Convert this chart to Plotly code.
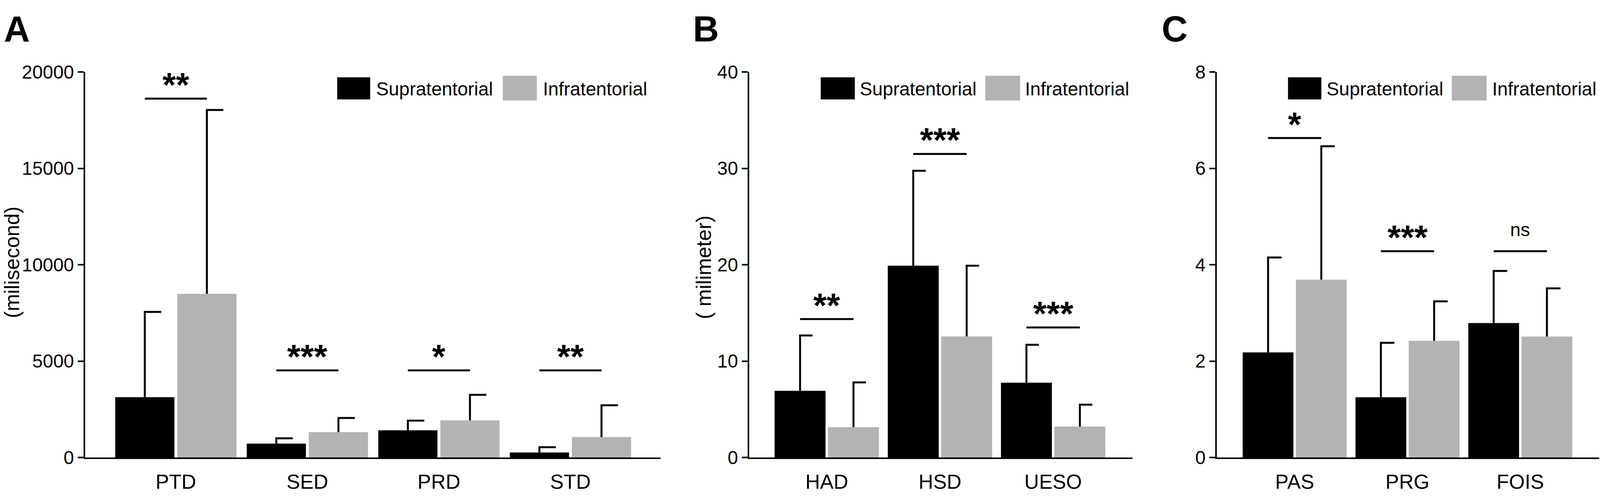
import plotly.graph_objects as go

# reference figure is 4318 x 1289; the browser viewport is 4096 css px wide,
# so the figure is laid out in reference pixels and mapped to paper fractions
REF_W, H = 4318, 1289
FIG_W = 4096

# panel A - durations
cats_A = ["PTD", "SED", "PRD", "STD"]
supra_A = [3130, 720, 1410, 260]
supra_A_sd = [4420, 275, 500, 270]
infra_A = [8490, 1315, 1925, 1060]
infra_A_sd = [9540, 735, 1325, 1650]
sig_A_y = [18620, 4520, 4520, 4520]
sig_A = ["**", "***", "*", "**"]

# panel B - distances
cats_B = ["HAD", "HSD", "UESO"]
supra_B = [6.92, 19.9, 7.76]
supra_B_sd = [5.74, 9.85, 3.94]
infra_B = [3.14, 12.56, 3.2]
infra_B_sd = [4.65, 7.34, 2.28]
sig_B_y = [14.36, 31.5, 13.49]
sig_B = ["**", "***", "***"]

# panel C - scores
cats_C = ["PAS", "PRG", "FOIS"]
supra_C = [2.18, 1.25, 2.79]
supra_C_sd = [1.97, 1.13, 1.08]
infra_C = [3.69, 2.42, 2.51]
infra_C_sd = [2.77, 0.82, 1.0]
sig_C_y = [6.63, 4.28, 4.28]
sig_C = ["*", "***", "ns"]

series_names = ["Supratentorial", "Infratentorial"]
BLACK = "#000000"
GREY = "#b3b3b3"
FONT = "Liberation Sans, Arial, sans-serif"


def px(x):
    return x / REF_W


def py(y):
    return 1 - y / H


panels = [
    dict(cats=cats_A, vals=[supra_A, infra_A], sds=[supra_A_sd, infra_A_sd],
         sig_y=sig_A_y, sig=sig_A, ymax=20000, dtick=5000,
         dom=[230, 1783], xr=[-0.689, 3.686], cap=0.125, letter="A", letter_x=8,
         ytitle="(milisecond)", ytitle_x=32, ytitle_y=672,
         leg=[910, 999, 1013, 1357, 1449, 1463]),
    dict(cats=cats_B, vals=[supra_B, infra_B], sds=[supra_B_sd, infra_B_sd],
         sig_y=sig_B_y, sig=sig_B, ymax=40, dtick=10,
         dom=[2022, 3056], xr=[-0.685, 2.70], cap=0.11, letter="B", letter_x=1868,
         ytitle="( milimeter)", ytitle_x=1899, ytitle_y=686,
         leg=[2215, 2307, 2318, 2659, 2753, 2764]),
    dict(cats=cats_C, vals=[supra_C, infra_C], sds=[supra_C_sd, infra_C_sd],
         sig_y=sig_C_y, sig=sig_C, ymax=8, dtick=2,
         dom=[3284, 4316], xr=[-0.69, 2.70], cap=0.12, letter="C", letter_x=3133,
         ytitle=None, leg=[3476, 3566, 3578, 3918, 4012, 4025]),
]

OFF = 0.236   # half distance between the two bar centres of a group
BW = 0.45     # bar width in category units
Y_DOM = [py(1193), py(165)]

fig = go.Figure()
shapes = []
annotations = []

for p_i, p in enumerate(panels):
    k = "" if p_i == 0 else str(p_i + 1)
    xa, ya = "x" + k, "y" + k
    idx = list(range(len(p["cats"])))

    for s_i, (vals, sds, col) in enumerate(zip(p["vals"], p["sds"], [BLACK, GREY])):
        xs = [i - OFF if s_i == 0 else i + OFF for i in idx]
        fig.add_trace(go.Bar(x=xs, y=vals, width=BW, marker=dict(color=col, line=dict(width=0)),
                             name=series_names[s_i], showlegend=False, xaxis=xa, yaxis=ya))
        # upward-only error bars with the cap going to the right
        ex, ey = [], []
        for x0, v, sd in zip(xs, vals, sds):
            ex += [x0, x0, x0 + p["cap"], None]
            ey += [v, v + sd, v + sd, None]
        fig.add_trace(go.Scatter(x=ex, y=ey, mode="lines", line=dict(color=BLACK, width=5),
                                 showlegend=False, hoverinfo="skip", xaxis=xa, yaxis=ya))

    # significance brackets
    for i, sy, lab in zip(idx, p["sig_y"], p["sig"]):
        shapes.append(dict(type="line", xref=xa, yref=ya, x0=i - OFF, x1=i + OFF, y0=sy, y1=sy,
                           line=dict(color=BLACK, width=5)))
        if lab == "ns":
            annotations.append(dict(x=i, y=sy, xref=xa, yref=ya, text=lab, showarrow=False,
                                    yanchor="middle", yshift=55,
                                    font=dict(family=FONT, size=48, color=BLACK)))
        else:
            annotations.append(dict(x=i, y=sy, xref=xa, yref=ya, text="<b>" + lab + "</b>",
                                    showarrow=False, yanchor="middle", yshift=36,
                                    font=dict(family=FONT, size=88, color=BLACK)))

    # axes
    xkey = "xaxis" + k
    ykey = "yaxis" + k
    fig.layout[xkey] = dict(domain=[px(p["dom"][0]), px(p["dom"][1])], range=p["xr"], anchor=ya,
                            tickvals=idx, ticktext=p["cats"], ticks="", showgrid=False,
                            zeroline=False, showline=True, linecolor=BLACK, linewidth=4,
                            ticklabelstandoff=14,
                            tickfont=dict(family=FONT, size=52, color=BLACK))
    fig.layout[ykey] = dict(domain=Y_DOM, range=[0, p["ymax"]], dtick=p["dtick"], anchor=xa,
                            tickformat="d",
                            ticks="outside", ticklen=15, tickwidth=4, tickcolor=BLACK,
                            showgrid=False, zeroline=False, showline=True, linecolor=BLACK,
                            linewidth=4, tickfont=dict(family=FONT, size=48, color=BLACK))

    # panel letter
    annotations.append(dict(x=px(p["letter_x"]), y=py(50), xref="paper", yref="paper",
                            text="<b>" + p["letter"] + "</b>", showarrow=False,
                            xanchor="left", yanchor="middle",
                            font=dict(family=FONT, size=92, color=BLACK)))
    if p["ytitle"]:
        annotations.append(dict(x=px(p["ytitle_x"]), y=py(p["ytitle_y"]), xref="paper", yref="paper",
                                text=p["ytitle"], textangle=-90, showarrow=False,
                                xanchor="center", yanchor="middle",
                                font=dict(family=FONT, size=53, color=BLACK)))

    # legend drawn as boxes and labels
    b0, b1, t0, g0, g1, t1 = p["leg"]
    shapes.append(dict(type="rect", xref="paper", yref="paper", x0=px(b0), x1=px(b1),
                       y0=py(238), y1=py(179), fillcolor=BLACK, line=dict(width=0)))
    shapes.append(dict(type="rect", xref="paper", yref="paper", x0=px(g0), x1=px(g1),
                       y0=py(241), y1=py(175), fillcolor=GREY, line=dict(width=0)))
    for tx, name in zip([t0, t1], series_names):
        annotations.append(dict(x=px(tx), y=py(210), xref="paper", yref="paper", text=name,
                                showarrow=False, xanchor="left", yanchor="middle",
                                font=dict(family=FONT, size=48, color=BLACK)))

fig.update_layout(width=FIG_W, height=H, margin=dict(l=0, r=0, t=0, b=0),
                  paper_bgcolor="white", plot_bgcolor="white", showlegend=False,
                  shapes=shapes, annotations=annotations, font=dict(family=FONT, color=BLACK))

fig.write_html("out.html", config={"displayModeBar": False},
               post_script="document.body.style.margin='0px';")
